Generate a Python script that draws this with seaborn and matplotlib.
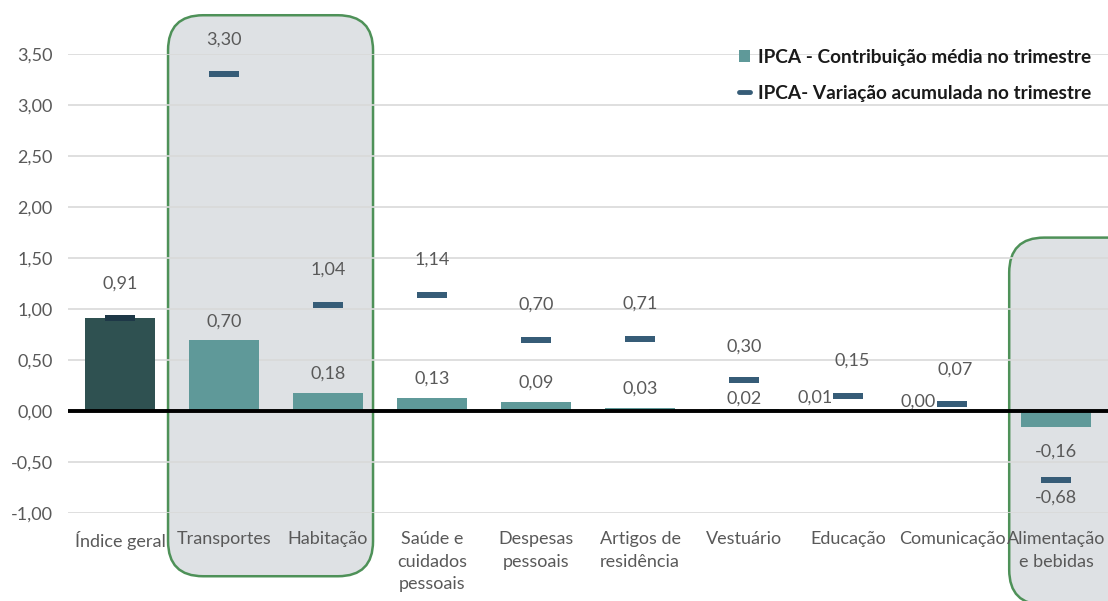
import matplotlib
matplotlib.use("Agg")
import matplotlib.pyplot as plt
import seaborn as sns
import numpy as np
from matplotlib.patches import FancyBboxPatch, Patch
from matplotlib.lines import Line2D
from matplotlib.path import Path
from matplotlib.ticker import FuncFormatter

# data
categorias = ["Índice geral", "Transportes", "Habitação", "Saúde e\ncuidados\npessoais",
              "Despesas\npessoais", "Artigos de\nresidência", "Vestuário", "Educação",
              "Comunicação", "Alimentação\ne bebidas"]
contribuicao = [0.91, 0.70, 0.18, 0.13, 0.09, 0.03, 0.02, 0.01, 0.00, -0.16]
variacao = [0.91, 3.30, 1.04, 1.14, 0.70, 0.71, 0.30, 0.15, 0.07, -0.68]
y_ticks = [-1.0, -0.5, 0.0, 0.5, 1.0, 1.5, 2.0, 2.5, 3.0, 3.5]
legenda = ["IPCA - Contribuição média no trimestre", "IPCA- Variação acumulada no trimestre"]

# label offsets in pixels (dx, dy); None = no label
off_barra = [None, (0, 18), (0, 19), (0, 19), (0, 19), (0, 19), (0, 10), (-33, 12), (-34, 9), (0, -24)]
off_traco = [(0, 35), (0, 35), (0, 35), (0, 35), (0, 35), (0, 35), (0, 34), (4, 35), (3, 34), (0, -17)]

sns.set_theme(style="white")
plt.rcParams["font.family"] = ["Lato", "DejaVu Sans"]

cor_barras = ["#2F5151"] + ["#5F9999"] * 9
cor_traco = ["#1E3847"] + ["#365C77"] * 9
cinza = "#595959"
fs = 13

fig = plt.figure(figsize=(11.08, 6.01), dpi=100)
W, H = 1108, 601
ax = fig.add_axes([68 / W, 1 - 513 / H, 1040 / W, (513 - 54) / H])

sns.barplot(x=categorias, y=contribuicao, hue=categorias, palette=cor_barras,
            legend=False, width=0.67, saturation=1, linewidth=0, ax=ax, zorder=2)

# dash markers
traco = Path([(-1, -0.2), (1, -0.2), (1, 0.2), (-1, 0.2), (-1, -0.2)],
             [Path.MOVETO, Path.LINETO, Path.LINETO, Path.LINETO, Path.CLOSEPOLY])
x_idx = np.arange(len(categorias))
sns.scatterplot(x=x_idx, y=variacao, hue=x_idx, palette=cor_traco, legend=False,
                marker=traco, s=21.5 ** 2, linewidth=0, ax=ax, zorder=4)

ax.set_xlim(-0.5, 9.5)
ax.set_ylim(-1.0, 3.5)
ax.set_yticks(y_ticks)
ax.yaxis.set_major_formatter(FuncFormatter(lambda v, p: f"{v:.2f}".replace(".", ",")))
ax.grid(axis="y", color="#D9D9D9", linewidth=1.2)
ax.set_axisbelow(True)
ax.axhline(0, color="black", linewidth=2.8, zorder=3)
for s in ax.spines.values():
    s.set_visible(False)
ax.tick_params(axis="both", length=0, labelsize=fs, colors=cinza)
ax.tick_params(axis="y", pad=11)
ax.tick_params(axis="x", pad=13)
for t in ax.get_xticklabels():
    t.set_linespacing(1.5)
    t.set_verticalalignment("top")
ax.set_xlabel("")
ax.set_ylabel("")

px = 72 / 100
fmt = lambda v: f"{v:.2f}".replace(".", ",")
for i, v in enumerate(contribuicao):
    if off_barra[i] is None:
        continue
    dx, dy = off_barra[i]
    ax.annotate(fmt(v), (i, v), xytext=(dx * px, dy * px), textcoords="offset points",
                ha="center", va="center", fontsize=fs, color=cinza, zorder=5)
for i, v in enumerate(variacao):
    dx, dy = off_traco[i]
    ax.annotate(fmt(v), (i, v), xytext=(dx * px, dy * px), textcoords="offset points",
                ha="center", va="center", fontsize=fs, color=cinza, zorder=5)

# highlight boxes (rounded), positioned from data, drawn in pixel space
def caixa(x0, x1, y0, y1):
    (a, b) = ax.transData.transform((x0, y0))
    (c, d) = ax.transData.transform((x1, y1))
    p = FancyBboxPatch((a + 35, b + 35), c - a - 70, d - b - 70,
                       boxstyle="round,pad=35", transform=None,
                       facecolor="#DEE1E4", edgecolor="#4E9158", linewidth=1.8,
                       clip_on=False, zorder=0.3)
    ax.add_artist(p)

caixa(0.462, 2.433, -1.62, 3.88)
caixa(8.55, 10.2, -1.9, 1.70)

handles = [Patch(facecolor="#5F9999", edgecolor="none"),
           Line2D([0], [0], color="#365C77", linewidth=3.5)]
leg = fig.legend(handles, legenda, loc="upper left", bbox_to_anchor=(729 / W, 1 - 39 / H),
                 frameon=False, prop={"weight": "bold", "size": 13.7}, handlelength=0.6,
                 handleheight=0.6, handletextpad=0.45, labelspacing=1.0, borderpad=0)
for t in leg.get_texts():
    t.set_color("#1A1A1A")

fig.savefig("out.png", dpi=100)
